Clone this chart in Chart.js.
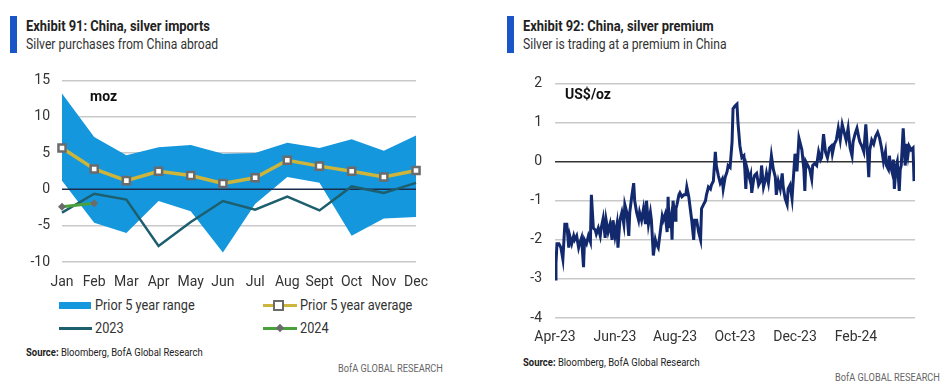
<!DOCTYPE html>
<html>
<head>
<meta charset="utf-8">
<script src="https://cdn.jsdelivr.net/npm/chart.js@4.4.1/dist/chart.umd.min.js"></script>
<style>
  body { margin: 0; width: 952px; height: 392px; background: #fff; position: relative; overflow: hidden;
         font-family: "Roboto", sans-serif; color: #222; }
  .abs { position: absolute; white-space: nowrap; transform-origin: 0 50%; }
  .bar { position: absolute; width: 7px; background: #1a56c8; }
  .title { font-weight: bold; font-size: 15px; transform: scaleX(0.86); }
  .sub { font-size: 15px; color: #333; transform: scaleX(0.81); }
  .unit { font-weight: bold; font-size: 14px; color: #111; }
  .src { font-size: 11px; color: #222; transform: scaleX(0.86); }
  .brand { font-size: 11px; color: #666; transform: scaleX(0.84); }
  .leg { font-size: 15px; color: #333; transform: scaleX(0.85); }
  canvas { position: absolute; }
</style>
</head>
<body>
<div class="bar" style="left:10px;top:16px;height:37px"></div>
<div class="abs title" style="left:26px;top:17px">Exhibit 91: China, silver imports</div>
<div class="abs sub" style="left:26px;top:35px">Silver purchases from China abroad</div>

<div class="bar" style="left:507px;top:16px;height:37px"></div>
<div class="abs title" style="left:523px;top:17px">Exhibit 92: China, silver premium</div>
<div class="abs sub" style="left:523px;top:35px">Silver is trading at a premium in China</div>

<canvas id="imports" width="440" height="230" style="left:0;top:60px;width:440px;height:230px"></canvas>
<canvas id="premium" width="440" height="286" style="left:500px;top:62px;width:440px;height:286px"></canvas>

<div class="abs unit" style="left:90px;top:88px">moz</div>
<div class="abs unit" style="left:565px;top:86px">US$/oz</div>

<!-- legend for the imports chart -->
<div class="abs" style="left:59px;top:302px;width:32px;height:7px;background:#1497dc"></div>
<div class="abs leg" style="left:95px;top:296px">Prior 5 year range</div>
<div class="abs" style="left:59px;top:327px;width:33px;height:3px;background:#1d5f6e"></div>
<div class="abs leg" style="left:95px;top:319px">2023</div>
<div class="abs" style="left:263px;top:304px;width:34px;height:3px;background:#cdb43a"></div>
<div class="abs" style="left:273px;top:300px;width:7px;height:7px;background:#fff;border:2px solid #6b6b6b"></div>
<div class="abs leg" style="left:300px;top:296px">Prior 5 year average</div>
<div class="abs" style="left:263px;top:327px;width:34px;height:3px;background:#4aa03c"></div>
<div class="abs" style="left:277px;top:325px;width:6px;height:6px;background:#6b6b6b;transform:rotate(45deg);transform-origin:50% 50%"></div>
<div class="abs leg" style="left:300px;top:319px">2024</div>

<div class="abs src" style="left:26px;top:346px"><b>Source:</b> Bloomberg, BofA Global Research</div>
<div class="abs brand" style="left:338px;top:362px">BofA GLOBAL RESEARCH</div>
<div class="abs src" style="left:523px;top:356px"><b>Source:</b> Bloomberg, BofA Global Research</div>
<div class="abs brand" style="left:835px;top:371px">BofA GLOBAL RESEARCH</div>

<script>
// Exhibit 91 - monthly silver imports, moz
const months = ['Jan', 'Feb', 'Mar', 'Apr', 'May', 'Jun', 'Jul', 'Aug', 'Sept', 'Oct', 'Nov', 'Dec'];
const rangeHigh = [13.2, 7.2, 4.7, 5.8, 6.1, 4.9, 5.0, 6.4, 5.7, 6.9, 5.3, 7.4];
const rangeLow = [1.2, -4.6, -6.0, -1.6, -3.0, -8.7, -2.0, 1.7, 0.9, -6.4, -4.0, -3.8];
const avg5y = [5.7, 2.8, 1.2, 2.5, 1.9, 0.8, 1.6, 4.0, 3.2, 2.5, 1.7, 2.6];
const y2023 = [-3.2, -0.6, -1.4, -7.8, -4.5, -1.6, -2.8, -1.0, -2.9, 0.4, -0.5, 0.9];
const y2024 = [-2.4, -1.9];

// Exhibit 92 - daily premium, US$/oz; x = days since 1 Apr 2023
const premiumDays = [
  0, 1, 2, 4, 6, 8, 10, 12, 14, 15, 17, 19, 20, 22, 24, 25, 27, 29, 30, 32, 34, 36, 37, 39, 41, 42, 44, 46, 47, 49,
  51, 52, 54, 56, 58, 59, 61, 63, 64, 66, 68, 70, 71, 73, 75, 76, 78, 80, 81, 83, 85,
  86, 88, 90, 92, 93, 95, 97, 98, 100, 102, 103, 105, 107, 109, 110, 112, 114, 115, 116, 118, 119, 120, 122, 123, 124,
  126, 127, 129, 131, 133, 134, 136, 137, 139, 141, 142, 144, 146, 148, 149, 151, 153, 154, 156, 158, 159, 161, 163,
  164, 166, 168, 170, 171, 173, 175, 176, 178,
  180, 181, 183, 185, 186, 188, 190, 192, 193, 194, 195, 196, 198, 199, 200, 202, 203, 205, 207, 209, 210, 212, 214,
  215, 217, 219, 220, 222, 224, 225, 227, 229, 231, 232, 234, 236, 237, 239, 241, 242, 244, 246, 248, 249, 251, 253,
  254, 255, 257, 259, 261, 262, 264, 266, 268,
  270, 271, 273, 275, 277, 279, 281, 282, 284, 286, 288, 290, 292, 294, 296, 298, 300, 302, 303, 305, 307, 309, 310,
  312, 314, 316, 317, 319, 320, 322, 324, 326, 328, 330, 332, 334, 336, 337, 339, 340, 341, 343, 344, 345, 347, 348,
  350, 351, 352, 354, 355, 356, 358, 359, 360, 362, 364, 365
];
const premiumValues = [
  -3.0, -2.6, -2.1, -2.1, -2.2, -2.5, -1.6, -1.6, -2.2, -1.9, -2.1, -1.9, -2.0, -1.9, -2.2, -2.1, -1.95, -2.7, -2.0, -2.1,
  -1.9, -2.05, -0.85, -1.7, -1.75, -1.85, -1.7, -1.9, -1.7, -1.45,
  -1.95, -1.5, -1.8, -1.6, -2.0, -1.5, -1.9, -1.6, -2.2, -1.5, -1.3, -1.6, -1.1, -1.3, -1.9, -1.3, -0.9, -0.55, -1.0, -1.3, -1.5,
  -1.3, -1.5, -1.2, -1.6, -1.0, -1.6, -1.3, -1.5, -2.4, -2.0, -2.1, -2.2, -1.8, -1.4, -1.5, -1.35, -1.8, -0.9, -1.7, -1.4,
  -2.0, -1.0, -1.5, -1.2, -1.1,
  -0.85, -0.8, -0.9, -0.85, -0.85, -0.65, -0.9, -1.1, -1.5, -2.0, -1.5, -1.5, -1.8, -2.0, -1.2, -1.1, -1.0, -0.85, -0.65,
  -0.7, -0.6, -0.5, 0.25,
  -0.1, -0.35, -0.55, -0.45, -0.7, -0.4, -0.25, -0.1, -0.15,
  0.5, 1.35, 1.42, 1.47, 1.0, 0.4, 0.1, 0.15, -0.2, -0.7, -0.15, -0.25, -0.45, -0.35, -0.8, -0.45, -0.35, -0.3, -0.6, -0.5,
  -0.1, -0.65, -0.45,
  -0.3, -0.55, -0.1, 0.15, -0.2, -0.4, -0.85, -0.5, -0.7, -0.3, -0.65, -0.95, -1.1, -0.7, -0.6, -0.95, -0.55, 0.2, -0.25,
  0.6, 0.5, 0.3, -0.2,
  -0.75, 0.0, -0.1, -0.2, -0.45, -0.1, -0.05, -0.1, 0.25,
  0.05, 0.1, 0.7, 0.25, 0.1, 0.35, 0.4, 0.2, 0.45, 0.55, 0.85, 0.55, 0.95, 0.75, 0.55, 0.85, 0.35, 0.15, 0.5, 0.7, 0.85,
  0.6, 0.5,
  0.4, 0.25, 0.95, 0.55, -0.4, 0.3, 0.55, 0.45, 0.65, 0.75, 0.6, 0.35, 0.0, 0.25, -0.1, -0.2, 0.15, -0.1, -0.3, 0.05, -0.7,
  -0.1, 0.0,
  -0.75, -0.2, -0.1, 0.85, 0.4, -0.1, 0.45, 0.2, 0.4, 0.3, 0.35, -0.5
];
const premiumTickDays = [0, 61, 122, 183, 244, 306];
const premiumTickLabels = ['Apr-23', 'Jun-23', 'Aug-23', 'Oct-23', 'Dec-23', 'Feb-24'];

const tickFont = { family: "Roboto, sans-serif", size: 14 };
const tickColor = '#333';
const gridGrey = '#c9c9c9';

Chart.defaults.animation = false;
Chart.defaults.plugins.legend.display = false;
Chart.defaults.plugins.tooltip.enabled = false;

function lineSet(data, color, width, order, extra) {
    return Object.assign({
        data: data,
        borderColor: color,
        borderWidth: width,
        pointRadius: 0,
        tension: 0,
        fill: false,
        order: order
    }, extra || {});
}

new Chart(document.getElementById('imports').getContext('2d'), {
    type: 'line',
    data: {
        labels: months,
        datasets: [
            lineSet(rangeHigh, 'rgba(0,0,0,0)', 0, 4, { fill: '+1', backgroundColor: '#1497dc' }),
            lineSet(rangeLow, 'rgba(0,0,0,0)', 0, 5),
            lineSet(months.map(() => 0), '#1b2d4f', 1.5, 3),
            lineSet(y2023, '#1d5f6e', 2.5, 2),
            lineSet(avg5y, '#cdb43a', 3.5, 1, {
                pointRadius: 5, pointStyle: 'rect', pointBackgroundColor: '#fff',
                pointBorderColor: '#6b6b6b', pointBorderWidth: 2.5
            }),
            lineSet(y2024, '#4aa03c', 3, 0, {
                pointRadius: 4, pointStyle: 'rectRot', pointBackgroundColor: '#6b6b6b',
                pointBorderColor: '#6b6b6b', pointBorderWidth: 0
            })
        ]
    },
    options: {
        responsive: false,
        layout: { padding: { top: 10, right: 23, bottom: 0, left: 0 } },
        scales: {
            x: {
                offset: false,
                afterFit: s => { s.height = 28; },
                grid: { display: false, drawTicks: false },
                border: { display: false },
                ticks: { font: tickFont, color: tickColor, padding: 12, maxRotation: 0, autoSkip: false }
            },
            y: {
                min: -10, max: 15,
                afterFit: s => { s.width = 62; },
                grid: { color: c => c.tick.value === 0 ? 'rgba(0,0,0,0)' : gridGrey, lineWidth: 1.5, drawTicks: false },
                border: { display: false },
                ticks: { stepSize: 5, font: tickFont, color: tickColor, padding: 12 }
            }
        }
    }
});

new Chart(document.getElementById('premium').getContext('2d'), {
    type: 'line',
    data: {
        datasets: [
            lineSet(premiumDays.map((d, i) => ({ x: d, y: premiumValues[i] })), '#13296e', 3, 0)
        ]
    },
    options: {
        responsive: false,
        layout: { padding: { top: 13, right: 25, bottom: 0, left: 0 } },
        scales: {
            x: {
                type: 'linear',
                min: 0, max: 366,
                afterFit: s => { s.height = 30; },
                afterBuildTicks: s => { s.ticks = premiumTickDays.map(v => ({ value: v })); },
                grid: { display: false, drawTicks: false },
                border: { display: false },
                ticks: {
                    font: tickFont, color: tickColor, padding: 11, maxRotation: 0, autoSkip: false,
                    callback: v => premiumTickLabels[premiumTickDays.indexOf(v)]
                }
            },
            y: {
                min: -4, max: 2,
                afterFit: s => { s.width = 55; },
                grid: { color: c => c.tick.value === 0 ? '#333' : gridGrey, lineWidth: 1.5, drawTicks: false },
                border: { display: false },
                ticks: { stepSize: 1, font: tickFont, color: tickColor, padding: 13 }
            }
        }
    }
});
</script>
</body>
</html>
